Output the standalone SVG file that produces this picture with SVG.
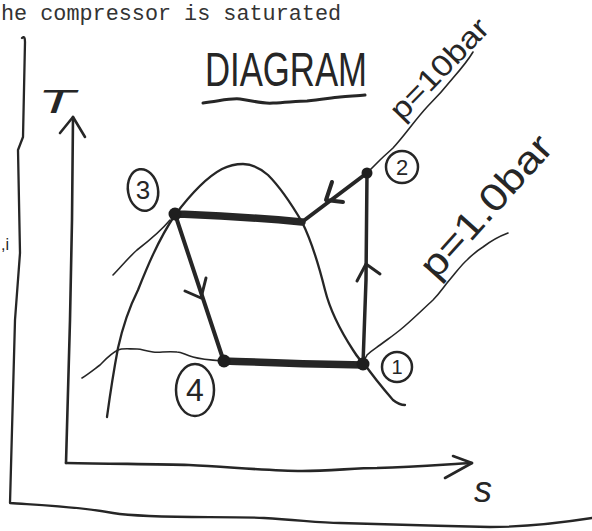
<svg xmlns="http://www.w3.org/2000/svg" width="592" height="531" viewBox="0 0 592 531">
<style>
.ln{fill:none;stroke:#262626;stroke-linecap:round;stroke-linejoin:round}
.thin{stroke-width:1.6}
.med{stroke-width:2.3}
.proc{stroke-width:4}
.thick{stroke-width:7.5}
.hand{font-family:"Liberation Sans",Arial,sans-serif;fill:#262626}
.dot{fill:#1e1e1e}
.circ{fill:none;stroke:#262626;stroke-width:2.5}
</style>
<rect width="592" height="531" fill="#ffffff"/>
<text x="1" y="20" font-family="Liberation Mono,Courier New,monospace" font-size="21.8" fill="#333">he compressor is saturated</text>
<text x="1" y="250" class="hand" font-size="16">,i</text>
<g id="frame">
<path class="ln med" d="M22,38 Q25,35 25,42 L23,137 L18,150 L20,253 L15,320 L10,503 C40,505 75,506 113,513 C150,519 220,516 264,518 C300,520 320,523 340,523 C380,524 440,526 490,527 C530,527 560,523 592,518"/>
</g>
<g id="title">
<text x="205" y="86" class="hand" font-size="48" textLength="162" lengthAdjust="spacingAndGlyphs">DIAGRAM</text>
<path class="ln" stroke-width="3" d="M203,103 C220,101 230,98 240,99 C255,101 262,104 273,103 C290,102 300,101 307,101 C320,100 330,98 340,97 C350,96 358,96 365,95"/>
</g>
<g id="axes">
<path class="ln" stroke-width="2.6" d="M66,463 L70,320 L72,220 L73,117"/>
<path class="ln" stroke-width="2.6" d="M60,133 L73,117 L85,137"/>
<text x="38" y="113" class="hand" font-size="34" font-style="italic" textLength="37" lengthAdjust="spacingAndGlyphs">T</text>
<path class="ln" stroke-width="2.6" d="M66,463 C120,464 160,464 189,465 C230,467 270,471 302,471 C330,471 355,468 377,468 C420,467 450,464 472,463"/>
<path class="ln" stroke-width="2.6" d="M453,456 L472,463 L445,478"/>
<text x="474" y="502" class="hand" font-size="36" font-style="italic">s</text>
</g>
<g id="dome">
<path class="ln med" d="M107,417 C110,395 112,380 118,348 C122,330 128,310 138,290 C146,270 158,240 175,215 C190,195 205,178 222,169 C230,165 236,164 243,164 C252,164 260,168 268,175 C280,187 292,205 302,222 C310,238 318,262 325,290 C330,310 340,330 353,350 C358,358 362,362 363,362 C370,372 380,385 393,400 C398,404 402,405 405,405"/>
</g>
<g id="isobars">
<path class="ln thin" d="M170,220 C160,232 150,240 137,250 C128,258 120,268 113,275"/>
<path class="ln thin" d="M370,170 L380,160 C385,155 390,151 393,148 C405,135 415,120 427,107 C437,97 445,88 453,78 C460,70 467,62 473,52"/>
<path class="ln thin" d="M223,361 C210,360 200,359 193,357 C185,355 182,352 177,352 C165,351 160,353 153,352 C145,351 142,349 137,349 C128,349 122,348 118,350 C110,354 105,360 100,365 C92,371 87,375 82,378"/>
<path class="ln thin" d="M363,362 C365,358 367,356 367,355 C372,350 376,348 380,345 C388,339 394,335 400,330 C410,322 420,312 433,300 C440,293 443,288 447,283 C455,274 461,265 467,260 C472,255 478,250 483,247 C492,240 500,236 508,233"/>
<text class="hand" font-size="30" textLength="128" lengthAdjust="spacingAndGlyphs" transform="translate(402,122) rotate(-46)">p=10bar</text>
<text class="hand" font-size="38" textLength="178" lengthAdjust="spacingAndGlyphs" transform="translate(436,281) rotate(-48)">p=1.0bar</text>
</g>
<g id="connectors">
<path class="ln thick" d="M175,214 C200,215 240,216 302,222"/>
<path class="ln proc" d="M302,222 L367,173"/>
<path class="ln proc" d="M332,182 L326,200 L343,202"/>
<path class="ln" stroke-width="3.5" d="M367,173 L366,280 L363,364"/>
<path class="ln" stroke-width="3" d="M357,281 L366,264 L380,274"/>
<path class="ln thick" d="M224,361 C260,362 300,364 363,365"/>
<path class="ln proc" d="M175,214 L224,362"/>
<path class="ln" stroke-width="3" d="M185,291 L201,298 L206,278"/>
</g>
<g id="state3">
<circle class="dot" cx="175" cy="214" r="6.5"/>
<ellipse class="circ" cx="143" cy="190" rx="15" ry="21" transform="rotate(-10 143 190)"/>
<text x="143" y="199" class="hand" font-size="26" text-anchor="middle">3</text>
</g>
<g id="state2">
<circle class="dot" cx="367" cy="173" r="5.5"/>
<ellipse class="circ" cx="402" cy="167" rx="16" ry="16"/>
<text x="402" y="175" class="hand" font-size="22" text-anchor="middle">2</text>
</g>
<g id="state4">
<circle class="dot" cx="224" cy="361" r="6.5"/>
<ellipse class="circ" cx="195" cy="390" rx="19" ry="26"/>
<text x="195" y="401" class="hand" font-size="32" text-anchor="middle">4</text>
</g>
<g id="state1">
<circle class="dot" cx="363" cy="364" r="6.5"/>
<ellipse class="circ" cx="397" cy="367" rx="15" ry="15"/>
<text x="397" y="374" class="hand" font-size="20" text-anchor="middle">1</text>
</g>
</svg>
